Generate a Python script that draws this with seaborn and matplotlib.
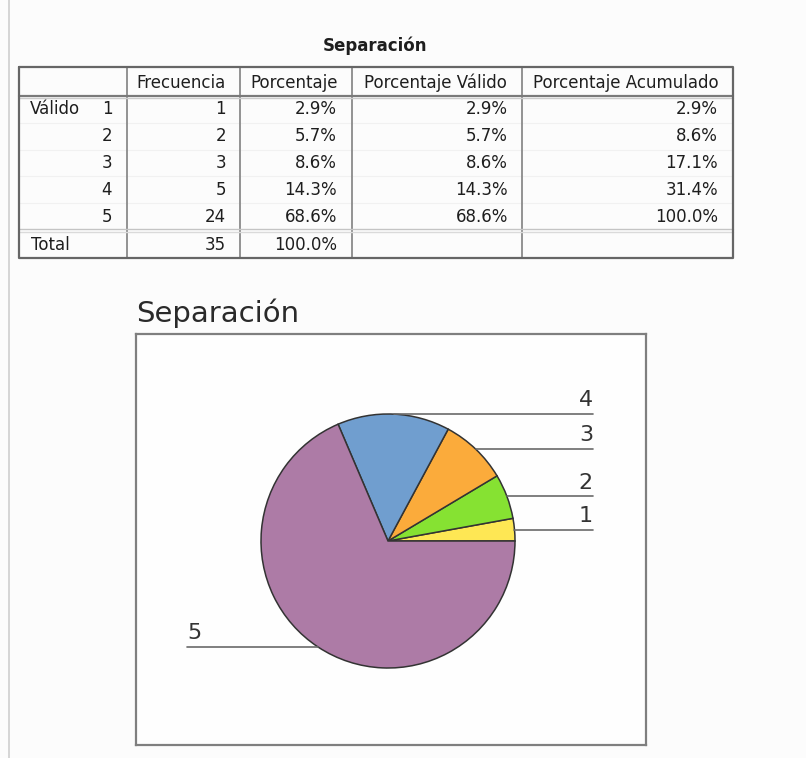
import numpy as np
import matplotlib
matplotlib.use("Agg")
import matplotlib.pyplot as plt
import seaborn as sns

# datos de la tabla de frecuencias
categorias = ["1", "2", "3", "4", "5"]
frecuencia = [1, 2, 3, 5, 24]
porcentaje = [2.9, 5.7, 8.6, 14.3, 68.6]
pct_valido = [2.9, 5.7, 8.6, 14.3, 68.6]
pct_acumulado = [2.9, 8.6, 17.1, 31.4, 100.0]
total_frec = 35
total_pct = 100.0
encabezados = ["Frecuencia", "Porcentaje", "Porcentaje Válido", "Porcentaje Acumulado"]
colores = ["#fee754", "#86e232", "#fbab3b", "#709ecf", "#ad7ba6"]

sns.set_theme(style="white")
plt.rcParams["font.family"] = ["DejaVu Sans"]

W, H = 806, 758
fig = plt.figure(figsize=(W / 100, H / 100), dpi=100, facecolor="#fcfcfc")

# capa de fondo en pixeles para la tabla
bg = fig.add_axes([0, 0, 1, 1])
bg.set_xlim(0, W)
bg.set_ylim(H, 0)
bg.axis("off")
bg.plot([9, 9], [0, H], color="#cfcfcf", lw=1.2)

txt = "#1e1e1e"
bg.text(375, 46, "Separación", ha="center", va="center", fontsize=12,
        fontweight="bold", color=txt)

cols = [19, 127, 240, 352, 522, 733]
top, head_bot, tot_line, bottom = 67, 96, 230, 258
row_h = (tot_line - head_bot) / 5

# lineas de la tabla
for y in [head_bot + row_h * i for i in range(1, 5)]:
    bg.plot([cols[0], cols[-1]], [y, y], color="#f1f1f1", lw=0.8)
for x in cols[1:-1]:
    bg.plot([x, x], [top, bottom], color="#8a8a8a", lw=1.3)
bg.plot([cols[0], cols[-1]], [head_bot, head_bot], color="#7a7a7a", lw=1.6)
bg.plot([cols[0], cols[-1]], [head_bot + 2, head_bot + 2], color="#cccccc", lw=1)
bg.plot([cols[0], cols[-1]], [tot_line - 1, tot_line - 1], color="#c4c4c4", lw=1)
bg.plot([cols[0], cols[-1]], [tot_line + 1.5, tot_line + 1.5], color="#dadada", lw=1)
bg.plot([cols[0], cols[-1], cols[-1], cols[0], cols[0]],
        [top, top, bottom, bottom, top], color="#666666", lw=1.6)

for i, h in enumerate(encabezados):
    bg.text((cols[i + 1] + cols[i + 2]) / 2 - 2, (top + head_bot) / 2 + 1, h,
            ha="center", va="center", fontsize=12, color=txt)

rights = [226, 337, 508, 718]
for i, cat in enumerate(categorias):
    yc = head_bot + row_h * (i + 0.5)
    if i == 0:
        bg.text(30, yc, "Válido", ha="left", va="center", fontsize=12, color=txt)
    bg.text(107, yc, cat, ha="center", va="center", fontsize=12, color=txt)
    vals = [str(frecuencia[i]), f"{porcentaje[i]:.1f}%", f"{pct_valido[i]:.1f}%",
            f"{pct_acumulado[i]:.1f}%"]
    for r, v in zip(rights, vals):
        bg.text(r, yc, v, ha="right", va="center", fontsize=12, color=txt)

yt = (tot_line + bottom) / 2 + 1
bg.text(31, yt, "Total", ha="left", va="center", fontsize=12, color=txt)
bg.text(rights[0], yt, str(total_frec), ha="right", va="center", fontsize=12, color=txt)
bg.text(rights[1], yt, f"{total_pct:.1f}%", ha="right", va="center", fontsize=12, color=txt)

# titulo del grafico
bg.text(136, 322, "Separación", ha="left", va="baseline", fontsize=21, color="#2a2a2a")

# grafico de sectores
ax_l, ax_t, ax_r, ax_b = 136, 334, 646, 745
ax = fig.add_axes([ax_l / W, 1 - ax_b / H, (ax_r - ax_l) / W, (ax_b - ax_t) / H])
cx, cy, rad = 388, 541, 127
pal = sns.color_palette(colores)
wedges, _ = ax.pie(frecuencia, colors=pal, startangle=0, counterclock=True,
                   wedgeprops=dict(edgecolor="#333333", linewidth=1.1))
ax.set_aspect("auto")
ax.set_frame_on(True)
ax.set_facecolor("#fefefe")
ax.set_xlim((ax_l - cx) / rad, (ax_r - cx) / rad)
ax.set_ylim((cy - ax_b) / rad, (cy - ax_t) / rad)
for s in ax.spines.values():
    s.set_visible(True)
    s.set_color("#7f7f7f")
    s.set_linewidth(1.6)
ax.set_xticks([])
ax.set_yticks([])

x_der = (593 - cx) / rad
x_izq = (187 - cx) / rad
for w, cat in zip(wedges, categorias):
    ang = np.deg2rad((w.theta1 + w.theta2) / 2)
    px, py = np.cos(ang), np.sin(ang)
    if px >= 0:
        ax.plot([px, x_der], [py, py], color="#6a6a6a", lw=1.2)
        ax.text(x_der, py + 0.03, cat, ha="right", va="bottom", fontsize=16, color="#333333")
    else:
        ax.plot([x_izq, px], [py, py], color="#6a6a6a", lw=1.2)
        ax.text(x_izq, py + 0.03, cat, ha="left", va="bottom", fontsize=16, color="#333333")

fig.savefig("out.png", dpi=100, facecolor=fig.get_facecolor())
